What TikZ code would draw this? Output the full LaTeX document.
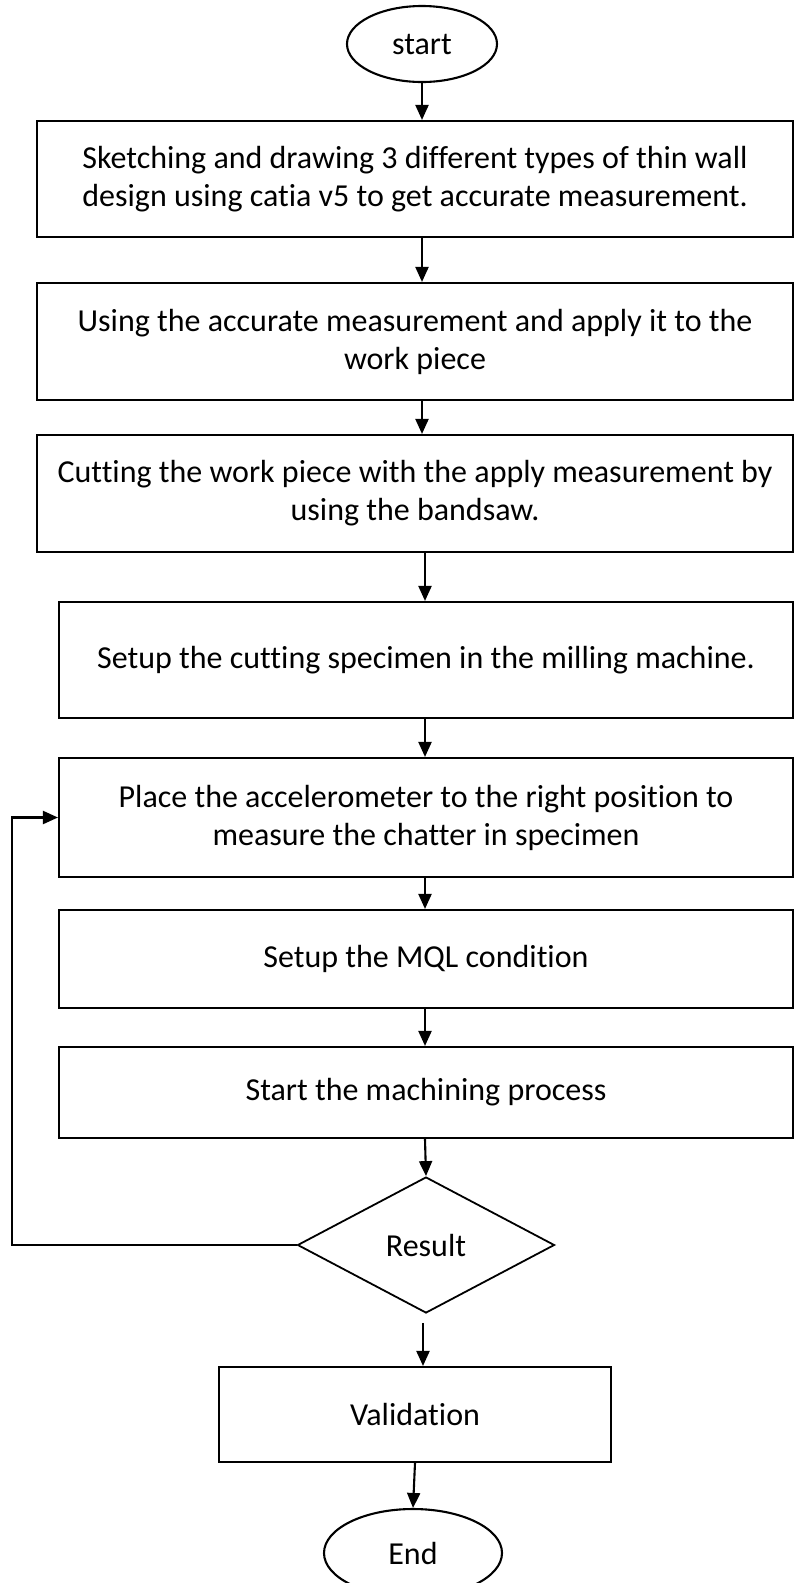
\documentclass[tikz,border=0pt]{standalone}
\usepackage{fontspec}
\setmainfont{Carlito}[Ligatures=NoCommon]
\usetikzlibrary{shapes.geometric,arrows.meta}
\begin{document}
\begin{tikzpicture}[x=1pt,y=-1pt,
  lbl/.style={font=\fontsize{32}{38}\selectfont},
  stepbox/.style={draw, line width=2.1pt, align=center, inner sep=0pt, lbl},
  term/.style={draw, ellipse, line width=2.1pt, inner sep=0pt, lbl},
  dec/.style={draw, diamond, line width=1.8pt, inner sep=0pt, lbl},
  arr/.style={line width=2.1pt, -{Triangle[length=15pt,width=13pt]}}]
\useasboundingbox (0,0) rectangle (794,1583);
\node[term, minimum width=150pt, minimum height=76pt] (start) at (422,44) {start};
\node[stepbox, minimum width=756pt, minimum height=116pt] (b1) at (415,179) {Sketching and drawing 3 different types of thin wall\\design using catia v5 to get accurate measurement.};
\node[stepbox, minimum width=756pt, minimum height=117pt] (b2) at (415,341.5) {Using the accurate measurement and apply it to the\\work piece};
\node[stepbox, minimum width=756pt, minimum height=117pt] (b3) at (415,493.5) {Cutting the work piece with the apply measurement by\\using the bandsaw.};
\node[stepbox, minimum width=734pt, minimum height=116pt] (b4) at (426,660) {Setup the cutting specimen in the milling machine.};
\node[stepbox, minimum width=734pt, minimum height=119pt] (b5) at (426,817.5) {Place the accelerometer to the right position to\\measure the chatter in specimen};
\node[stepbox, minimum width=734pt, minimum height=98pt] (b6) at (426,959) {Setup the MQL condition};
\node[stepbox, minimum width=734pt, minimum height=91pt] (b7) at (426,1092.5) {Start the machining process};
\node[dec, minimum width=257pt, minimum height=136pt, aspect=1.89] (d) at (426,1245) {Result};
\node[stepbox, minimum width=392pt, minimum height=95pt] (b8) at (415,1414.5) {Validation};
\node[term, minimum width=178pt, minimum height=88pt] (end) at (413,1553) {End};
\coordinate (ax) at (422,0);
\coordinate (bx) at (425,0);
\coordinate (cx) at (423,0);
\coordinate (ex1) at (415,0);
\coordinate (ex2) at (413,0);
\coordinate (lx) at (12,0);
\draw[arr] (start.south -| ax) -- (b1.north -| ax);
\draw[arr] (b1.south -| ax) -- (b2.north -| ax);
\draw[arr] (b2.south -| ax) -- (b3.north -| ax);
\draw[arr] (b3.south -| bx) -- (b4.north -| bx);
\draw[arr] (b4.south -| bx) -- (b5.north -| bx);
\draw[arr] (b5.south -| bx) -- (b6.north -| bx);
\draw[arr] (b6.south -| bx) -- (b7.north -| bx);
\draw[arr] (b7.south -| bx) -- (d.north);
\draw[arr, shorten <=9pt] (d.south -| cx) -- (b8.north -| cx);
\draw[arr] (b8.south -| ex1) -- (end.north -| ex2);
\draw[arr] (d.west) -- (d.west -| lx) -- (lx |- b5.west) -- (b5.west);
\end{tikzpicture}
\end{document}
